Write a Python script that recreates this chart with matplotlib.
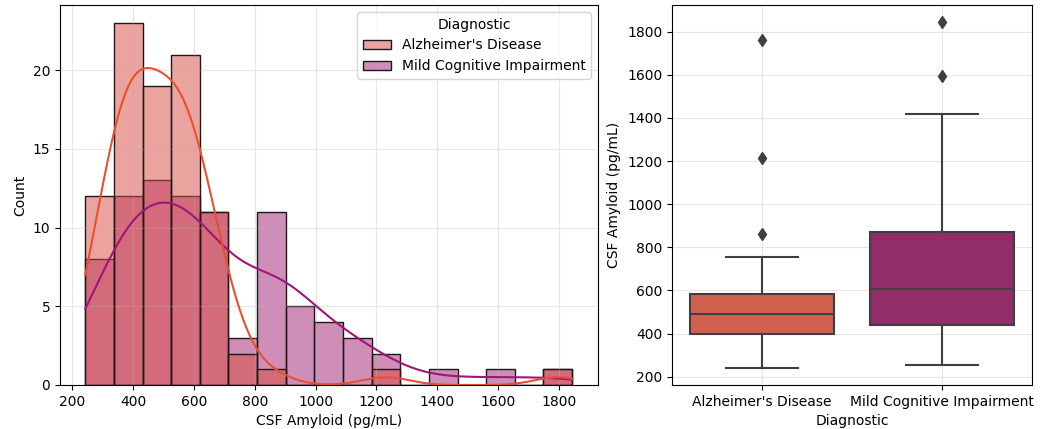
import numpy as np
import matplotlib
matplotlib.use("Agg")
import matplotlib.pyplot as plt
from matplotlib.colors import to_rgba
from matplotlib.patches import Patch

# histogram counts per bin (17 equal bins between the data min and max)
data_min, data_max = 243, 1843
ad_counts = [12, 23, 19, 21, 11, 2, 1, 0, 0, 0, 1, 0, 0, 0, 0, 0, 1]
mci_counts = [8, 12, 13, 12, 11, 3, 11, 5, 4, 3, 2, 0, 1, 0, 1, 0, 1]

groups = ["Alzheimer's Disease", "Mild Cognitive Impairment"]

# box plot summary values
q1 = [400, 440]
medians = [493, 605]
q3 = [583, 870]
whis_lo = [243, 255]
whis_hi = [757, 1420]
fliers = [[860, 1215, 1760], [1595, 1843]]

hist_colors = ["#d94941", "#a11f71"]
line_colors = ["#e8502f", "#a0157a"]
box_colors = ["#d0614f", "#922d6a"]

edges = np.linspace(data_min, data_max, len(ad_counts) + 1)
centers = (edges[:-1] + edges[1:]) / 2
width = edges[1] - edges[0]


def kde_curve(counts, grid, adjust=1.0):
    w = np.asarray(counts, float)
    n = w.sum()
    mean = (w * centers).sum() / n
    sd = np.sqrt((w * (centers - mean) ** 2).sum() / (n - 1))
    h = sd * n ** (-1 / 5) * adjust
    dens = np.zeros_like(grid)
    for c, wi in zip(centers, w):
        dens += wi * np.exp(-0.5 * ((grid - c) / h) ** 2) / (h * np.sqrt(2 * np.pi))
    return dens * width


fig = plt.figure(figsize=(10.42, 4.29), dpi=100)
ax1 = fig.add_axes([60 / 1042, 44 / 429, 538 / 1042, 380 / 429])
ax2 = fig.add_axes([672 / 1042, 44 / 429, 360 / 1042, 380 / 429])

grid_x = np.linspace(data_min, data_max, 300)
# seaborn layers the later hue level underneath
for i in [1, 0]:
    counts = [ad_counts, mci_counts][i]
    ax1.bar(edges[:-1], counts, width=width, align="edge",
            facecolor=to_rgba(hist_colors[i], 0.5), edgecolor="#1a1a1a", linewidth=1)
for i in [1, 0]:
    counts = [ad_counts, mci_counts][i]
    ax1.plot(grid_x, kde_curve(counts, grid_x, 0.92), color=line_colors[i], lw=1.5)

ax1.set_xlim(160, 1928)
ax1.set_ylim(0, 24.15)
ax1.set_xticks(range(200, 1801, 200))
ax1.set_yticks(range(0, 21, 5))
ax1.grid(alpha=0.3)
ax1.set_xlabel("CSF Amyloid (pg/mL)")
ax1.set_ylabel("Count")
handles = [Patch(facecolor=to_rgba(hist_colors[i], 0.5), edgecolor="#1a1a1a") for i in range(2)]
leg = ax1.legend(handles, groups, title="Diagnostic", loc="upper right")

stats = []
for i in range(2):
    stats.append(dict(med=medians[i], q1=q1[i], q3=q3[i], whislo=whis_lo[i],
                      whishi=whis_hi[i], fliers=fliers[i]))
line_c = "#3f3f3f"
bp = ax2.bxp(stats, positions=[0, 1], widths=0.8, patch_artist=True,
             boxprops=dict(edgecolor=line_c, linewidth=1.5),
             medianprops=dict(color=line_c, linewidth=1.5),
             whiskerprops=dict(color=line_c, linewidth=1.5),
             capprops=dict(color=line_c, linewidth=1.5),
             flierprops=dict(marker="d", markerfacecolor=line_c, markeredgecolor=line_c,
                             markersize=6))
for patch, c in zip(bp["boxes"], box_colors):
    patch.set_facecolor(c)
ax2.set_xlim(-0.5, 1.5)
ax2.set_ylim(162, 1923)
ax2.set_xticks([0, 1])
ax2.set_xticklabels(groups)
ax2.set_yticks(range(200, 1801, 200))
ax2.grid(alpha=0.3)
ax2.set_xlabel("Diagnostic")
ax2.set_ylabel("CSF Amyloid (pg/mL)")

fig.savefig("out.png", dpi=100)
